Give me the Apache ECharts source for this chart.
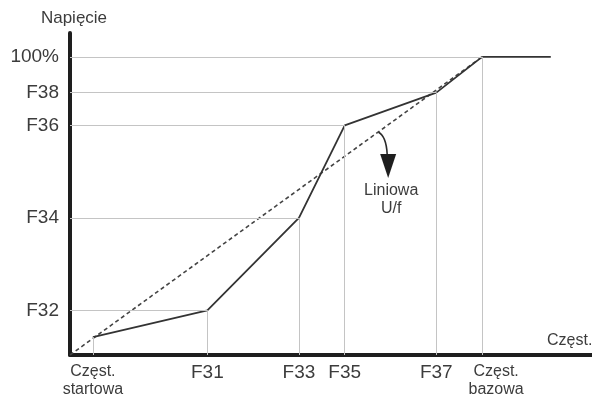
<!DOCTYPE html>
<html>
<head>
<meta charset="utf-8">
<script src="https://cdn.jsdelivr.net/npm/echarts@6/dist/echarts.min.js"></script>
<style>
  html, body { margin: 0; padding: 0; background: #fff; }
  #chart { width: 592px; height: 399px; }
</style>
</head>
<body>
<div id="chart"></div>
<script>
// x: frequency points, y: voltage points (percent of rated voltage)
const freqNames = ['Częst.\nstartowa', 'F31', 'F33', 'F35', 'F37', 'Częst.\nbazowa'];
const freqValues = [5, 30, 50, 60, 80, 90];
const voltNames = ['F32', 'F34', 'F36', 'F38', '100%'];
const voltValues = [15, 46, 77, 88, 100];
const startVolt = 6;
const endFreq = 105;
const linearLine = [[0, 0], [90, 100]];

const curveY = [startVolt].concat(voltValues);
const curve = freqValues.map((f, i) => [f, curveY[i]]);
curve.push([endFreq, 100]);

// guide lines: horizontal from y axis to point, vertical from x axis to point
const guides = [];
curve.slice(0, freqValues.length).forEach((p, i) => {
  if (i > 0) guides.push([{ coord: [0, p[1]] }, { coord: p }]);
  guides.push([{ coord: [p[0], 0] }, { coord: p }]);
});

const labelColor = '#3c3c3c';
const font = 'Liberation Sans, Arial, sans-serif';

function freqLabel(v) {
  const name = freqNames[freqValues.indexOf(v)];
  if (name.indexOf('\n') < 0) return name;
  const style = v === 90 ? 'b' : 's';
  return name.split('\n').map(l => `{${style}|${l}}`).join('\n');
}
const freqRich = {
  s: { fontSize: 16, lineHeight: 18, color: labelColor, fontFamily: font },
  b: { fontSize: 16, lineHeight: 18, color: labelColor, fontFamily: font, padding: [0, 0, 0, 28] }
};

const chart = echarts.init(document.getElementById('chart'));
chart.setOption({
  backgroundColor: '#ffffff',
  animation: false,
  grid: { left: 70, right: 0, top: 33, bottom: 44, containLabel: false, outerBoundsMode: 'none' },
  xAxis: [{
    type: 'value',
    min: 0,
    max: 114,
    name: 'Częst.',
    nameLocation: 'end',
    nameGap: -45,
    nameTextStyle: {
      color: labelColor, fontSize: 16, fontFamily: font,
      align: 'left', verticalAlign: 'bottom', padding: [0, 0, 6, 0]
    },
    axisLine: { lineStyle: { color: '#1e1e1e', width: 4 } },
    axisTick: { show: false },
    splitLine: { show: false },
    axisLabel: {
      customValues: freqValues.slice(0, 5),
      hideOverlap: false,
      margin: 8,
      color: labelColor,
      fontFamily: font,
      fontSize: 19,
      formatter: freqLabel,
      rich: freqRich
    }
  }, {
    // second axis only for the base frequency label (shifted right like in the source)
    type: 'value',
    position: 'bottom',
    min: 0,
    max: 114,
    axisLine: { show: false },
    axisTick: { show: false },
    splitLine: { show: false },
    axisLabel: {
      customValues: freqValues.slice(5),
      showMaxLabel: true,
      margin: 8,
      color: labelColor,
      fontFamily: font,
      fontSize: 16,
      formatter: freqLabel,
      rich: freqRich
    }
  }],
  yAxis: {
    type: 'value',
    min: 0,
    max: 108,
    name: 'Napięcie',
    nameLocation: 'end',
    nameGap: 6,
    nameTextStyle: { color: labelColor, fontSize: 17, fontFamily: font, padding: [0, 0, 0, 8] },
    axisLine: { show: true, lineStyle: { color: '#1e1e1e', width: 4 } },
    axisTick: { show: false },
    splitLine: { show: false },
    axisLabel: {
      customValues: voltValues,
      margin: 11,
      color: labelColor,
      fontFamily: font,
      fontSize: 19,
      formatter(v) {
        return voltNames[voltValues.indexOf(v)];
      }
    }
  },
  series: [
    {
      type: 'line',
      data: [],
      silent: true,
      markLine: {
        silent: true,
        symbol: 'none',
        label: { show: false },
        lineStyle: { color: '#c4c4c4', width: 1, type: 'solid' },
        data: guides
      },
      z: 1
    },
    {
      type: 'line',
      data: linearLine,
      symbol: 'none',
      lineStyle: { color: '#444', width: 1.6, type: [4, 3] },
      z: 2
    },
    {
      type: 'line',
      data: curve,
      symbol: 'none',
      lineStyle: { color: '#333', width: 1.8 },
      z: 3
    }
  ]
});

// annotation arrow pointing from the linear U/f line
const a = chart.convertToPixel({ xAxisIndex: 0, yAxisIndex: 0 }, [67.3, 74.8]);
chart.setOption({
  graphic: [
    {
      type: 'bezierCurve',
      shape: { x1: a[0], y1: a[1], x2: a[0] + 9, y2: a[1] + 22, cpx1: a[0] + 8, cpy1: a[1] + 4 },
      style: { stroke: '#2a2a2a', lineWidth: 1.6, fill: null }
    },
    {
      type: 'polygon',
      shape: { points: [[a[0] + 2, a[1] + 22], [a[0] + 18, a[1] + 22], [a[0] + 10, a[1] + 46]] },
      style: { fill: '#1e1e1e' }
    },
    {
      type: 'text',
      x: a[0] + 13,
      y: a[1] + 50,
      style: {
        text: 'Liniowa\nU/f',
        fill: labelColor,
        font: '16px ' + font,
        align: 'center',
        lineHeight: 18
      }
    }
  ]
});
</script>
</body>
</html>
